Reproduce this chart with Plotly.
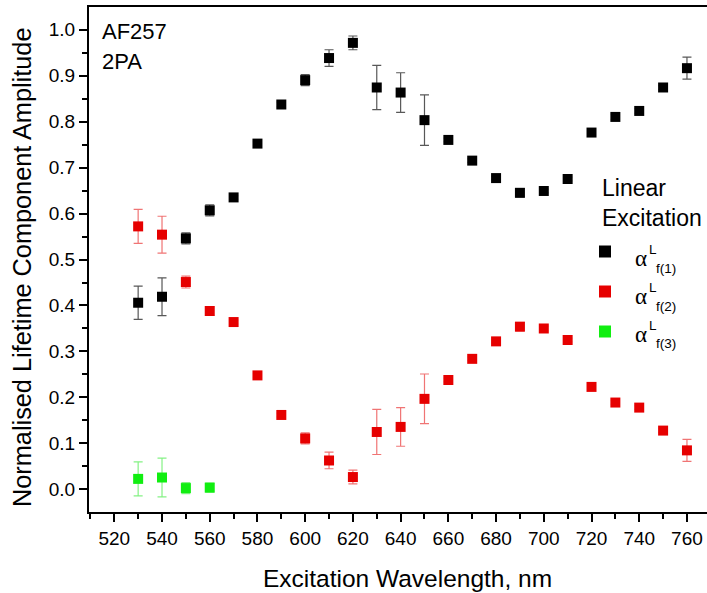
import plotly.graph_objects as go

wavelength = [530, 540, 550, 560, 570, 580, 590, 600, 610, 620, 630, 640,
              650, 660, 670, 680, 690, 700, 710, 720, 730, 740, 750, 760]

alpha_f1 = [0.406, 0.419, 0.546, 0.607, 0.635, 0.752, 0.837, 0.890, 0.938, 0.971, 0.874, 0.863,
            0.803, 0.760, 0.715, 0.677, 0.645, 0.649, 0.675, 0.776, 0.810, 0.823, 0.874, 0.916]
alpha_f1_err = [0.036, 0.041, 0.012, 0.012, 0.004, 0.004, 0.005, 0.012, 0.018, 0.015, 0.048, 0.043,
                0.055, 0.004, 0.004, 0.004, 0.009, 0.004, 0.004, 0.004, 0.006, 0.005, 0.004, 0.024]

alpha_f2 = [0.572, 0.554, 0.451, 0.388, 0.364, 0.248, 0.162, 0.111, 0.063, 0.027, 0.125, 0.136,
            0.197, 0.238, 0.284, 0.322, 0.354, 0.350, 0.325, 0.223, 0.189, 0.178, 0.128, 0.085]
alpha_f2_err = [0.037, 0.040, 0.013, 0.009, 0.004, 0.004, 0.004, 0.012, 0.018, 0.015, 0.049, 0.042,
                0.054, 0.004, 0.004, 0.004, 0.009, 0.005, 0.004, 0.004, 0.004, 0.004, 0.004, 0.024]

wavelength_f3 = [530, 540, 550, 560]
alpha_f3 = [0.023, 0.026, 0.003, 0.004]
alpha_f3_err = [0.037, 0.042, 0.012, 0.010]

x_ticks = list(range(520, 761, 20))
y_ticks = [round(0.1 * i, 1) for i in range(11)]
series_labels = ["f(1)", "f(2)", "f(3)"]
x_title = "Excitation Wavelength, nm"
y_title = "Normalised Lifetime Component Amplitude"

FONT = "Liberation Sans, Arial, sans-serif"
SERIF = "Liberation Serif, Times New Roman, serif"

# plot-area geometry in pixels (for placing annotations in paper coords)
L_PX, T_PX, W_PX, H_PX = 89, 7, 618, 505


def px(xp):
    return (xp - L_PX) / W_PX


def py(yp):
    return (T_PX + H_PX - yp) / H_PX


fig = go.Figure()
series = [
    (wavelength, alpha_f1, alpha_f1_err, "#000000", "rgba(70,70,70,0.9)"),
    (wavelength, alpha_f2, alpha_f2_err, "#e60000", "rgba(235,70,70,0.75)"),
    (wavelength_f3, alpha_f3, alpha_f3_err, "#11ee11", "rgba(80,235,80,0.7)"),
]
for i, (xs, ys, es, col, ecol) in enumerate(series):
    fig.add_trace(go.Scatter(
        x=xs, y=ys, mode="markers", name="\u00a0", legendgroup="g%d" % i,
        hovertext="alpha L " + series_labels[i],
        marker=dict(symbol="square", size=10, color=col),
        error_y=dict(type="data", array=es, visible=True, color=ecol,
                     thickness=1.2, width=4.5),
    ))

fig.update_layout(
    width=707, height=593,
    margin=dict(l=L_PX, r=0, t=T_PX, b=593 - T_PX - H_PX),
    paper_bgcolor="white", plot_bgcolor="white",
    font=dict(family=FONT, color="black"),
    showlegend=True,
    legend=dict(x=px(585), y=py(232), xanchor="left", yanchor="top",
                bgcolor="rgba(0,0,0,0)", borderwidth=0, font=dict(size=20, family=FONT),
                tracegroupgap=11, itemsizing="constant"),
    xaxis=dict(
        range=[509.4, 768.4], tickmode="array", tickvals=x_ticks,
        ticktext=[str(v) for v in x_ticks],
        ticks="outside", ticklen=8, tickwidth=2, tickcolor="black",
        minor=dict(dtick=10, tick0=510, ticks="outside", ticklen=5, tickwidth=2, tickcolor="black"),
        showline=True, linewidth=2, linecolor="black", mirror=True,
        showgrid=False, zeroline=False,
        tickfont=dict(size=19, family=FONT),
    ),
    yaxis=dict(
        range=[-0.049, 1.049], tickmode="array", tickvals=y_ticks,
        ticktext=["%.1f" % v for v in y_ticks],
        ticks="outside", ticklen=8, tickwidth=2, tickcolor="black",
        minor=dict(dtick=0.05, tick0=0.05, ticks="outside", ticklen=5, tickwidth=2, tickcolor="black"),
        showline=True, linewidth=2, linecolor="black", mirror=False,
        showgrid=False, zeroline=False,
        tickfont=dict(size=19, family=FONT),
    ),
)

# axis titles
fig.add_annotation(x=px(407), y=py(578), xref="paper", yref="paper",
                   text=x_title, showarrow=False, xanchor="center", yanchor="middle",
                   font=dict(size=24.5, family=FONT))
fig.add_annotation(x=px(22), y=py(268), xref="paper", yref="paper",
                   text=y_title, showarrow=False, xanchor="center", yanchor="middle",
                   textangle=-90, font=dict(size=25.3, family=FONT))

fig.add_annotation(x=px(100), y=py(31), xref="paper", yref="paper",
                   text="AF257", showarrow=False, xanchor="left", yanchor="middle",
                   font=dict(size=22, family=FONT))
fig.add_annotation(x=px(100), y=py(62), xref="paper", yref="paper",
                   text="2PA", showarrow=False, xanchor="left", yanchor="middle",
                   font=dict(size=22, family=FONT))
fig.add_annotation(x=px(600), y=py(173), xref="paper", yref="paper",
                   text="Linear<br>Excitation", showarrow=False, xanchor="left", yanchor="top",
                   align="left", font=dict(size=23, family=FONT))

# legend labels: alpha with superscript L and subscript f(n)
for i, lab in enumerate(series_labels):
    m = 253 + 38 * i
    fig.add_annotation(x=px(633), y=py(m + 5), xref="paper", yref="paper",
                       text="\u03b1", showarrow=False, xanchor="left", yanchor="middle",
                       font=dict(size=23, family=SERIF))
    fig.add_annotation(x=px(647), y=py(m - 4), xref="paper", yref="paper",
                       text="L", showarrow=False, xanchor="left", yanchor="middle",
                       font=dict(size=13.5, family=FONT))
    fig.add_annotation(x=px(654), y=py(m + 15), xref="paper", yref="paper",
                       text=lab, showarrow=False, xanchor="left", yanchor="middle",
                       font=dict(size=13.5, family=FONT))

fig.write_html("out.html")
